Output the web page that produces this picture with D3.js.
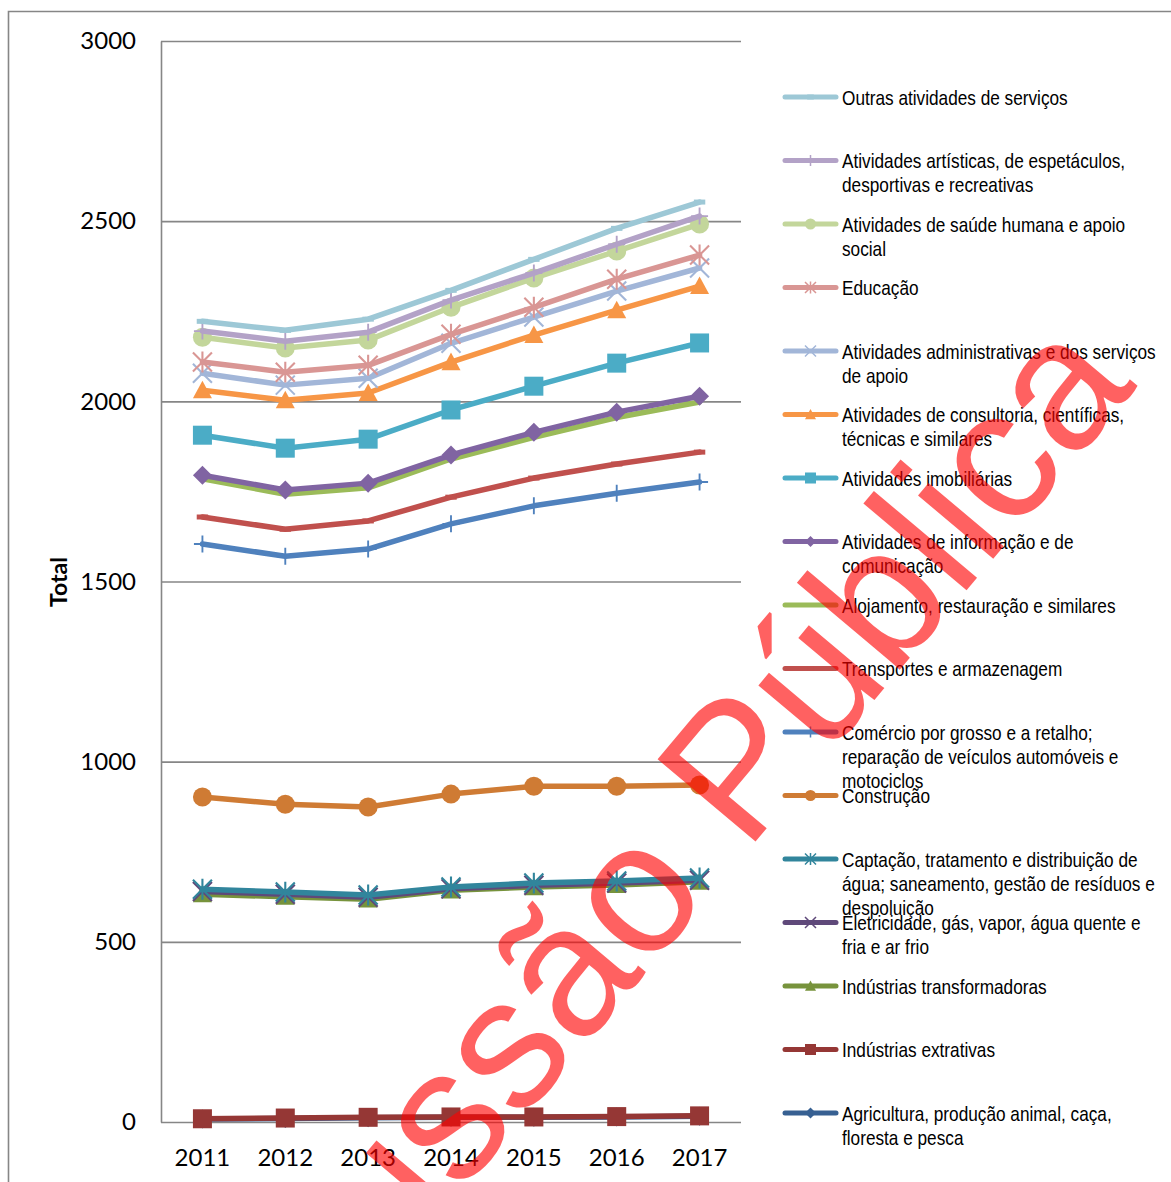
<!DOCTYPE html>
<html><head><meta charset="utf-8">
<script src="https://cdn.jsdelivr.net/npm/d3@7/dist/d3.min.js"></script>
<style>body{margin:0;background:#fff}svg{display:block}</style>
</head><body>
<svg id="c" width="1171" height="1182"></svg>
<script>
const years = ["2011","2012","2013","2014","2015","2016","2017"];
const yTicks = [0, 500, 1000, 1500, 2000, 2500, 3000];
const seriesNames = [
  "Outras atividades de serviços",
  "Atividades artísticas, de espetáculos, desportivas e recreativas",
  "Atividades de saúde humana e apoio social",
  "Educação",
  "Atividades administrativas e dos serviços de apoio",
  "Atividades de consultoria, científicas, técnicas e similares",
  "Atividades imobiliárias",
  "Atividades de informação e de comunicação",
  "Alojamento, restauração e similares",
  "Transportes e armazenagem",
  "Comércio por grosso e a retalho; reparação de veículos automóveis e motociclos",
  "Construção",
  "Captação, tratamento e distribuição de água; saneamento, gestão de resíduos e despoluição",
  "Eletricidade, gás, vapor, água quente e fria e ar frio",
  "Indústrias transformadoras",
  "Indústrias extrativas",
  "Agricultura, produção animal, caça, floresta e pesca"
];
const outras          = [2222, 2197, 2228, 2308, 2394, 2480, 2553];
const artisticas      = [2195, 2167, 2192, 2281, 2356, 2436, 2514];
const saude           = [2178, 2148, 2170, 2261, 2342, 2417, 2492];
const educacao        = [2109, 2081, 2100, 2186, 2261, 2339, 2406];
const administrativas = [2078, 2045, 2064, 2161, 2234, 2306, 2370];
const consultoria     = [2031, 2003, 2023, 2109, 2184, 2253, 2320];
const imobiliarias    = [1906, 1870, 1895, 1976, 2042, 2106, 2162];
const informacao      = [1795, 1754, 1773, 1851, 1914, 1970, 2014];
const alojamento      = [1785, 1742, 1760, 1840, 1900, 1955, 1998];
const transportes     = [1679, 1645, 1668, 1734, 1787, 1826, 1859];
const comercio        = [1604, 1570, 1590, 1660, 1710, 1745, 1776];
const construcao      = [902, 882, 874, 910, 932, 932, 935];
const captacao        = [646, 638, 630, 652, 663, 669, 677];
const eletricidade    = [640, 632, 624, 647, 657, 663, 671];
const transformadoras = [632, 625, 618, 643, 652, 658, 667];
const extrativas      = [9, 11, 13, 14, 14, 15, 17];
const agricultura     = [8, 10, 12, 13, 13, 14, 16];
const watermarkText = "Discussão Pública";

const seriesValues = [outras, artisticas, saude, educacao, administrativas, consultoria,
  imobiliarias, informacao, alojamento, transportes, comercio, construcao, captacao,
  eletricidade, transformadoras, extrativas, agricultura];

// styles
const colors = ["#9DC8D6","#B3A2C7","#C3D69B","#D99694","#A2B6D8","#F79646","#4BACC6","#8064A2",
  "#9BBB59","#C0504D","#4F81BD","#CF7B34","#31859C","#5F497A","#77933C","#953735","#376092"];
const markers = ["dash","plus","circle","star","x","triangle","square","diamond",
  "none","dash","plus","circle","star","x","triangle","square","diamond"];

const W = 1171, H = 1182;
const svg = d3.select("#c");
svg.append("rect").attr("width", W).attr("height", H).attr("fill", "#fff");
svg.append("path").attr("d", "M8.5,1182V11.5H1171").attr("fill","none")
  .attr("stroke","#868686").attr("stroke-width",1.6);

const x = d3.scaleBand().domain(years).range([161, 741]);
const y = d3.scaleLinear().domain([0, 3000]).range([1122, 41]);
const cx = d => x(d) + x.bandwidth() / 2;

// y axis + gridlines
const gy = svg.append("g").attr("transform", "translate(161,0)")
  .call(d3.axisLeft(y).tickValues(yTicks).tickSize(-580).tickSizeOuter(0)
    .tickPadding(25).tickFormat(d3.format("d")));
gy.selectAll("line").attr("stroke", "#868686").attr("stroke-width", 1.6);
gy.select(".domain").attr("stroke", "#868686").attr("stroke-width", 1.6);
gy.selectAll("text").attr("font-family", "Lato, 'Open Sans', sans-serif")
  .attr("font-size", 24).attr("fill", "#000");

const gx = svg.append("g").attr("transform", "translate(0,1122)")
  .call(d3.axisBottom(x).tickSize(0).tickPadding(27));
gx.select(".domain").remove();
gx.selectAll("text").attr("font-family", "Lato, 'Open Sans', sans-serif")
  .attr("font-size", 24).attr("fill", "#000");

svg.append("text").attr("transform", "translate(67,582) rotate(-90)")
  .attr("text-anchor", "middle").attr("font-family", "Lato, sans-serif")
  .attr("font-weight", "bold").attr("font-size", 23).attr("fill", "#000").text("Total");

function drawMarker(g, type, h, color) {
  if (type === "none") return;
  if (type === "circle") { g.append("circle").attr("r", h).attr("fill", color); return; }
  if (type === "square") { g.append("rect").attr("x", -h).attr("y", -h).attr("width", 2*h).attr("height", 2*h).attr("fill", color); return; }
  if (type === "diamond") { g.append("path").attr("d", `M0,${-h}L${h},0L0,${h}L${-h},0Z`).attr("fill", color); return; }
  if (type === "triangle") { g.append("path").attr("d", `M0,${-h}L${h},${h*0.85}L${-h},${h*0.85}Z`).attr("fill", color); return; }
  let d = "";
  const sw = Math.max(1.5, h * 0.22);
  if (type === "x" || type === "star") d += `M${-h},${-h}L${h},${h}M${-h},${h}L${h},${-h}`;
  if (type === "star") d += `M0,${-h*1.1}V${h*1.1}`;
  if (type === "plus") d += `M0,${-h}V${h}M${-h},0H${h}`;
  if (type === "dash") d += `M${-h*0.6},0H${h*0.6}`;
  g.append("path").attr("d", d).attr("stroke", color).attr("stroke-width", type === "dash" ? 5 : sw).attr("fill", "none");
}

const line = d3.line().x((d, i) => cx(years[i])).y(d => y(d));
const plot = svg.append("g");
for (let s = seriesValues.length - 1; s >= 0; s--) {
  const vals = seriesValues[s];
  plot.append("path").attr("d", line(vals)).attr("fill", "none")
    .attr("stroke", colors[s]).attr("stroke-width", 5.5)
    .attr("stroke-linejoin", "round").attr("stroke-linecap", "round");
  vals.forEach((v, i) => {
    const g = plot.append("g").attr("transform", `translate(${cx(years[i])},${y(v)})`);
    drawMarker(g, markers[s], markers[s] === "plus" ? 8.5 : 9.5, colors[s]);
  });
}

// legend (narrow type: Arial metrics condensed horizontally)
const ly = d3.scaleLinear().domain([0, seriesNames.length - 1]).range([97, 1113]);
const lg = svg.append("g");
const squeeze = 0.82;
seriesNames.forEach((name, i) => {
  const yy = ly(i);
  lg.append("line").attr("x1", 785).attr("x2", 836).attr("y1", yy).attr("y2", yy)
    .attr("stroke", colors[i]).attr("stroke-width", 5).attr("stroke-linecap", "round");
  const g = lg.append("g").attr("transform", `translate(810.5,${yy})`);
  drawMarker(g, markers[i], 5.5, colors[i]);
  const t = lg.append("text").attr("transform", `translate(842,${yy + 7.5}) scale(${squeeze},1)`)
    .attr("font-family", "'Liberation Sans', Arial, sans-serif")
    .attr("font-size", 21).attr("fill", "#000");
  const words = name.split(" ");
  let lineWords = [];
  let tspan = t.append("tspan").attr("x", 0).attr("dy", 0);
  words.forEach(w => {
    lineWords.push(w);
    tspan.text(lineWords.join(" "));
    if (tspan.node().getComputedTextLength() * squeeze > 325 && lineWords.length > 1) {
      lineWords.pop();
      tspan.text(lineWords.join(" "));
      lineWords = [w];
      tspan = t.append("tspan").attr("x", 0).attr("dy", 24.3).text(w);
    }
  });
});

// watermark
svg.append("text").attr("transform", "translate(1138,386) rotate(-50)")
  .attr("text-anchor", "end").attr("font-family", "'Liberation Sans', Arial, sans-serif")
  .attr("font-size", 186).attr("fill", "#FF0000").attr("fill-opacity", 0.62)
  .text(watermarkText);
</script>
</body></html>
